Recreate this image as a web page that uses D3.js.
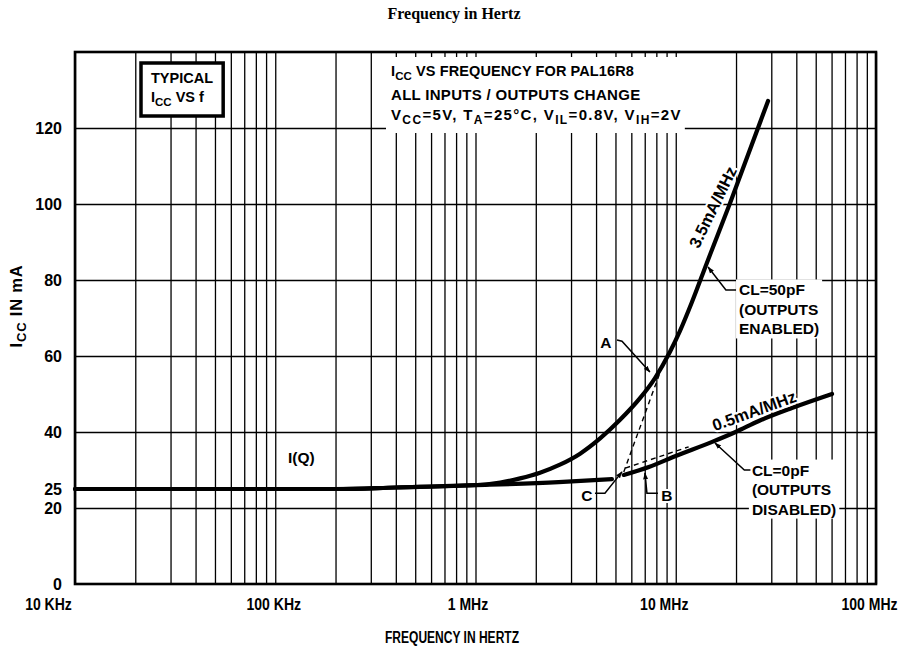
<!DOCTYPE html>
<html><head><meta charset="utf-8">
<script src="https://cdn.jsdelivr.net/npm/d3@7"></script>
<style>body{margin:0;background:#fff} svg{display:block}</style>
</head><body>
<svg id="chart" width="905" height="649"></svg>
<script>
// ---------- data ----------
const xTickValues = [1e4, 1e5, 1e6, 1e7, 1e8];
const xTickLabels = ["10 KHz", "100 KHz", "1 MHz", "10 MHz", "100 MHz"];
const yTickValues = [0, 20, 25, 40, 60, 80, 100, 120];
const yGridValues = [20, 40, 60, 80, 100, 120];

// CL = 50pF (outputs enabled)
const enabledFreq = [1e4, 2e5, 4e5, 1.02e6, 1.33e6, 1.67e6, 2.1e6, 2.64e6, 3.33e6, 4.19e6, 5.27e6, 6.63e6, 7.88e6, 9.36e6, 10.5e6, 12.05e6, 14.3e6, 18.7e6, 28.9e6];
const enabledIcc  = [25, 25, 25.4, 26.05, 26.7, 27.8, 29.3, 31.4, 34.3, 38.3, 43.2, 48.9, 54.2, 61.1, 66.6, 74.2, 84.5, 100.3, 127.1];
// CL = 0pF (outputs disabled), two solid segments
const disabledLowFreq  = [1e4, 2e5, 4e5, 1e6, 2.6e6, 4.8e6];
const disabledLowIcc   = [25, 25, 25.4, 26.0, 26.8, 27.6];
const disabledHighFreq = [5.5e6, 7.34e6, 10e6, 15.2e6, 19.9e6, 26e6, 38e6, 60.3e6];
const disabledHighIcc  = [28.7, 30.8, 33.7, 37.4, 40.0, 42.9, 46.3, 50.0];
// dashed slope guides
const slopeAFreq = [5.5e6, 8.43e6];
const slopeAIcc  = [29.5, 56.3];
const slopeBFreq = [5.6e6, 11.6e6];
const slopeBIcc  = [30.5, 36.1];

// ---------- layout ----------
const pL = 75, pR = 876, pT = 52, pB = 584;
const FONT = "'Liberation Sans', Arial, Helvetica, sans-serif";
const svg = d3.select("#chart");
const x = d3.scaleLog().domain([1e4, 1e8]).range([pL, pR]);
const y = d3.scaleLinear().domain([0, 140]).range([pB, pT]);
const zip = (a, b) => a.map((v, i) => [v, b[i]]);

svg.append("defs").append("marker")
  .attr("id", "arr").attr("viewBox", "0 0 10 10").attr("refX", 9).attr("refY", 5)
  .attr("markerWidth", 7).attr("markerHeight", 7).attr("markerUnits", "userSpaceOnUse")
  .attr("orient", "auto")
  .append("path").attr("d", "M0,1.5 L10,5 L0,8.5 Z").attr("fill", "#000");

// ---------- grid ----------
const gv = svg.append("g").attr("transform", `translate(0,${pB})`)
  .call(d3.axisBottom(x).tickValues(x.ticks()).tickSize(-(pB - pT)).tickFormat(""));
gv.select(".domain").remove();
gv.selectAll("line").attr("stroke", "#000").attr("stroke-width", 1.3);

const gh = svg.append("g").attr("transform", `translate(${pL},0)`)
  .call(d3.axisLeft(y).tickValues(yGridValues).tickSize(-(pR - pL)).tickFormat(""));
gh.select(".domain").remove();
gh.selectAll("line").attr("stroke", "#000").attr("stroke-width", 1.3);

svg.append("rect").attr("x", pL).attr("y", pT).attr("width", pR - pL).attr("height", pB - pT)
  .attr("fill", "none").attr("stroke", "#000").attr("stroke-width", 2.6);

// ---------- axes labels ----------
const xLabelShift = [-27, -2, -8, -12, -7];
const ax = svg.append("g").attr("transform", `translate(0,${pB})`)
  .call(d3.axisBottom(x).tickValues(xTickValues).tickSize(0).tickPadding(14).tickFormat((d, i) => xTickLabels[i]));
ax.select(".domain").remove();
ax.selectAll("text").attr("font-family", FONT).attr("font-size", 16.5).attr("font-weight", "bold").attr("fill", "#000")
  .attr("transform", (d, i) => `translate(${xLabelShift[i]},0) scale(0.85,1)`);

const ay = svg.append("g").attr("transform", `translate(${pL},0)`)
  .call(d3.axisLeft(y).tickValues(yTickValues).tickSize(0).tickPadding(13));
ay.select(".domain").remove();
ay.selectAll("text").attr("font-family", FONT).attr("font-size", 16).attr("font-weight", "bold").attr("fill", "#000");

function rich(t, parts, subSize, shift) {
  parts.forEach(([s, sub], i) => {
    const ts = t.append("tspan").text(s);
    if (sub) ts.attr("font-size", subSize).attr("dy", shift);
    else if (i > 0 && parts[i - 1][1]) ts.attr("dy", -shift);
  });
  return t;
}

svg.append("text").attr("x", 454).attr("y", 19).attr("text-anchor", "middle")
  .attr("font-family", "'Liberation Serif', 'Times New Roman', serif").attr("font-weight", "bold").attr("font-size", 16)
  .text("Frequency in Hertz");
svg.append("text").attr("x", 452).attr("y", 643).attr("text-anchor", "middle")
  .attr("font-family", FONT).attr("font-weight", "bold").attr("font-size", 16)
  .attr("textLength", 134).attr("lengthAdjust", "spacingAndGlyphs")
  .text("FREQUENCY IN HERTZ");
rich(svg.append("text").attr("transform", "translate(22,306) rotate(-90)").attr("text-anchor", "middle")
  .attr("font-family", FONT).attr("font-weight", "bold").attr("font-size", 16.5).attr("letter-spacing", 0.8),
  [["I", 0], ["CC", 1], [" IN mA", 0]], 13, 4);

// ---------- top annotation block ----------
const tb = svg.append("g").attr("font-family", FONT).attr("font-weight", "bold").attr("font-size", 14.5);
const tbBg = tb.append("rect").attr("fill", "#fff");
rich(tb.append("text").attr("x", 391).attr("y", 76).attr("letter-spacing", 0.1),
  [["I", 0], ["CC", 1], [" VS FREQUENCY FOR PAL16R8", 0]], 11.5, 4);
rich(tb.append("text").attr("x", 391).attr("y", 100).attr("font-size", 15).attr("letter-spacing", 0.3),
  [["ALL INPUTS / OUTPUTS CHANGE", 0]], 11.5, 4);
rich(tb.append("text").attr("x", 391).attr("y", 120).attr("font-size", 15).attr("letter-spacing", 1.35),
  [["V", 0], ["CC", 1], ["=5V, T", 0], ["A", 1], ["=25°C, V", 0], ["IL", 1], ["=0.8V, V", 0], ["IH", 1], ["=2V", 0]], 12, 4);
{
  const bs = tb.selectAll("text").nodes().map(n => n.getBBox());
  const x0 = d3.min(bs, b => b.x), x1 = d3.max(bs, b => b.x + b.width);
  const y0 = d3.min(bs, b => b.y), y1 = d3.max(bs, b => b.y + b.height);
  tbBg.attr("x", x0 - 5).attr("y", y0 - 6).attr("width", x1 - x0 + 8).attr("height", y1 - y0 + 12);
}

const tyB = svg.append("g").attr("font-family", FONT).attr("font-weight", "bold").attr("font-size", 14.5);
const tyRect = tyB.append("rect").attr("fill", "#fff").attr("stroke", "#000").attr("stroke-width", 3.5);
tyB.append("text").attr("x", 151).attr("y", 83).text("TYPICAL");
rich(tyB.append("text").attr("x", 151).attr("y", 102), [["I", 0], ["CC", 1], [" VS  f", 0]], 11.5, 4);
{
  const bs = tyB.selectAll("text").nodes().map(n => n.getBBox());
  const x0 = d3.min(bs, b => b.x), x1 = d3.max(bs, b => b.x + b.width);
  const y0 = d3.min(bs, b => b.y), y1 = d3.max(bs, b => b.y + b.height);
  tyRect.attr("x", x0 - 10).attr("y", y0 - 7).attr("width", x1 - x0 + 20).attr("height", y1 - y0 + 15);
}

// ---------- curves ----------
const line = d3.line().x(d => x(d[0])).y(d => y(d[1])).curve(d3.curveMonotoneX);
const straight = d3.line().x(d => x(d[0])).y(d => y(d[1]));
[zip(enabledFreq, enabledIcc), zip(disabledLowFreq, disabledLowIcc), zip(disabledHighFreq, disabledHighIcc)]
  .forEach(s => svg.append("path").attr("d", line(s)).attr("fill", "none").attr("stroke", "#000")
    .attr("stroke-width", 4.2).attr("stroke-linecap", "round").attr("stroke-linejoin", "round"));
[zip(slopeAFreq, slopeAIcc), zip(slopeBFreq, slopeBIcc)]
  .forEach(s => svg.append("path").attr("d", straight(s)).attr("fill", "none").attr("stroke", "#000")
    .attr("stroke-width", 1.4).attr("stroke-dasharray", "5,4"));

// ---------- annotations ----------
const ann = svg.append("g").attr("font-family", FONT).attr("font-weight", "bold").attr("font-size", 15.5);
function leader(pts) {
  ann.append("path").attr("d", straight(pts)).attr("fill", "none").attr("stroke", "#000")
    .attr("stroke-width", 1.5).attr("marker-end", "url(#arr)");
}
function letter(f, v, s) {
  [["#fff", 4], ["none", 0]].forEach(([st, sw]) =>
    ann.append("text").attr("x", x(f)).attr("y", y(v)).attr("text-anchor", "middle").attr("dy", "0.36em")
      .attr("stroke", st).attr("stroke-width", sw).attr("stroke-linejoin", "round").text(s));
}
function block(f, v, lines) {
  const g = ann.append("g");
  const bg = g.append("rect").attr("fill", "#fff");
  const t = g.append("text").attr("x", x(f)).attr("y", y(v));
  lines.forEach((s, i) => t.append("tspan").attr("x", x(f)).attr("dy", i === 0 ? "0.36em" : 19.5).text(s));
  const b = t.node().getBBox();
  bg.attr("x", b.x - 3).attr("y", b.y - 2).attr("width", b.width + 6).attr("height", b.height + 3);
}
function rotated(f, v, ang, s) {
  [["#fff", 4], ["none", 0]].forEach(([st, sw]) =>
    ann.append("text").attr("transform", `translate(${x(f)},${y(v)}) rotate(${ang})`)
      .attr("text-anchor", "middle").attr("dy", "0.36em").attr("font-size", 16.5)
      .attr("stroke", st).attr("stroke-width", sw).attr("stroke-linejoin", "round").text(s));
}

letter(4.48e6, 63.7, "A");
leader([[5.09e6, 64.2], [5.39e6, 63.9], [7.43e6, 55.8]]);
letter(3.6e6, 23.4, "C");
leader([[3.95e6, 23.9], [4.43e6, 23.9], [5.39e6, 29.5]]);
letter(9.04e6, 23.4, "B");
leader([[8.15e6, 23.9], [7.18e6, 23.9], [7.02e6, 29.2]]);

block(20.7e6, 77.4, ["CL=50pF", "(OUTPUTS", "ENABLED)"]);
leader([[20.0e6, 77.4], [17.8e6, 77.4], [14.5e6, 83.4]]);
block(24.0e6, 30.0, ["CL=0pF", "(OUTPUTS", "DISABLED)"]);
leader([[23.6e6, 30.0], [22.0e6, 30.0], [15.7e6, 37.1]]);

rotated(15.3e6, 99.2, -64, "3.5mA/MHz");
rotated(24.6e6, 45.6, -20, "0.5mA/MHz");

ann.append("text").attr("x", x(1.35e5)).attr("y", y(33.2)).attr("dy", "0.36em").attr("text-anchor", "middle").text("I(Q)");
</script>
</body></html>
